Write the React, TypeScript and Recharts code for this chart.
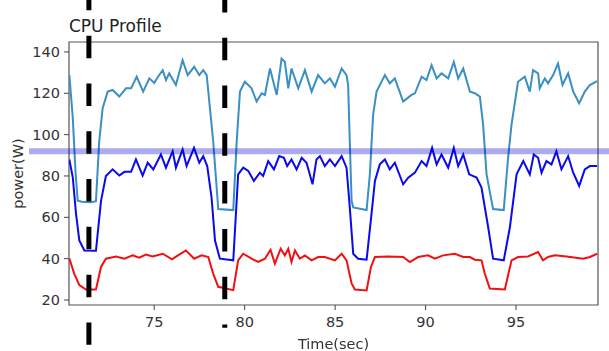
import { LineChart, Line, XAxis, YAxis, ReferenceLine, ReferenceArea } from 'recharts';

// light blue trace
const lbTime = [70.31, 70.5, 70.65, 70.77, 71.0, 71.5, 71.78, 71.96, 72.15, 72.43, 72.7, 73.07, 73.44, 73.72, 74.03, 74.39, 74.73, 75.0, 75.21, 75.47, 75.65, 75.83, 76.2, 76.57, 76.85, 77.21, 77.49, 77.71, 77.9, 78.08, 78.26, 78.54, 79.37, 79.56, 79.74, 80.01, 80.38, 80.66, 80.94, 81.12, 81.4, 81.77, 82.04, 82.22, 82.41, 82.59, 82.96, 83.33, 83.7, 84.06, 84.43, 84.71, 84.99, 85.36, 85.63, 85.72, 85.81, 85.91, 86.0, 86.74, 86.92, 87.1, 87.29, 87.75, 88.02, 88.3, 88.76, 89.22, 89.41, 89.78, 90.05, 90.33, 90.61, 90.88, 91.25, 91.56, 91.8, 92.08, 92.45, 92.72, 93.0, 93.18, 93.37, 93.73, 94.32, 94.56, 94.75, 95.11, 95.48, 95.76, 95.94, 96.22, 96.31, 96.59, 96.77, 97.05, 97.32, 97.57, 97.88, 98.16, 98.49, 98.8, 99.08, 99.48];
const lbPower = [128.8, 108, 82, 68, 67.5, 67.3, 67.8, 96.8, 112.8, 120.8, 121.6, 118.4, 122.4, 122.4, 128, 120.8, 127.2, 125, 128, 131.2, 126.4, 129.6, 124, 136, 128.8, 132.8, 128.8, 131.2, 128.8, 112.8, 96.8, 64, 63.5, 96.8, 120.8, 125.6, 122.4, 116, 120, 119.2, 132, 119.2, 136.8, 135.2, 122.4, 132, 122.4, 131.2, 120.8, 128.8, 124.8, 127.2, 123.2, 132, 128.8, 124, 96.8, 68, 64.8, 63.5, 80.8, 109.6, 120.8, 128.8, 124.8, 127.2, 116, 119.2, 120, 128, 126.4, 133.6, 127.2, 129.6, 127.2, 135.2, 127.2, 132, 120.8, 120, 118.4, 104.8, 80.8, 64, 63.5, 88.8, 104.8, 125.6, 128, 120.8, 131.2, 129.6, 122.4, 127.2, 124.8, 128.8, 134.4, 124, 129.6, 120.8, 115.2, 120.8, 124, 125.9];

// blue trace
const blueTime = [70.31, 70.5, 70.68, 70.86, 71.14, 71.78, 72.06, 72.33, 72.7, 73.07, 73.35, 73.72, 73.99, 74.36, 74.64, 74.95, 75.37, 75.65, 76.02, 76.2, 76.57, 76.79, 77.2, 77.49, 77.71, 77.93, 78.17, 78.36, 78.63, 79.37, 79.64, 79.92, 80.2, 80.51, 80.84, 81.02, 81.3, 81.62, 81.91, 82.17, 82.35, 82.59, 82.87, 83.15, 83.42, 83.75, 83.97, 84.16, 84.43, 84.71, 84.99, 85.36, 85.63, 85.81, 86.0, 86.27, 86.74, 87.01, 87.2, 87.47, 87.75, 88.02, 88.3, 88.76, 89.04, 89.41, 89.78, 90.05, 90.36, 90.61, 90.88, 91.25, 91.56, 91.8, 92.08, 92.41, 92.82, 93.09, 93.46, 93.73, 94.32, 94.66, 95.03, 95.4, 95.76, 95.98, 96.22, 96.41, 96.68, 96.96, 97.23, 97.51, 97.88, 98.16, 98.49, 98.8, 99.08, 99.48];
const bluePower = [88, 79.2, 61.6, 48.8, 44, 43.8, 68, 80, 83.2, 80.2, 82, 82, 88, 80.2, 86.4, 83.2, 90.4, 84, 92, 84, 92.8, 84.8, 93.6, 86.4, 89.6, 84.8, 69.6, 48.8, 40, 39.2, 80.8, 84, 82.4, 77.6, 81.6, 80, 87.2, 83.2, 89.6, 88.8, 84.8, 88, 83.2, 88.8, 86.4, 76, 88, 89.6, 84.8, 88, 84.8, 89.6, 84, 64.8, 42.4, 40, 39.5, 61.6, 77.6, 85.6, 88, 83.2, 86.4, 76, 79.2, 81.6, 87.2, 84.8, 93.6, 85.6, 90.4, 84, 93.6, 84.8, 90.4, 80.8, 79.2, 74.4, 55.2, 40, 39.2, 55.2, 80.8, 87.2, 80.8, 90.4, 88.8, 81.6, 87.2, 85.6, 92, 83.2, 89.6, 81.6, 75.2, 83.2, 84.8, 84.8];

// red trace
const redTime = [70.31, 70.58, 70.86, 71.23, 71.78, 72.06, 72.33, 72.89, 73.35, 73.81, 74.17, 74.54, 74.91, 75.47, 75.98, 76.38, 76.75, 77.21, 77.62, 77.99, 78.26, 78.54, 79.37, 79.64, 79.92, 80.38, 80.75, 81.12, 81.43, 81.67, 81.99, 82.22, 82.41, 82.59, 82.78, 83.05, 83.33, 83.7, 84.06, 84.43, 84.99, 85.36, 85.63, 85.91, 86.09, 86.74, 86.98, 87.2, 87.93, 88.76, 89.13, 89.59, 90.14, 90.51, 90.97, 91.62, 92.08, 92.45, 92.72, 93.09, 93.27, 93.55, 94.38, 94.75, 95.11, 95.66, 96.22, 96.49, 96.77, 97.14, 97.79, 98.71, 99.08, 99.48];
const redPower = [40, 32.8, 27.2, 25.1, 25.1, 36, 40, 41.1, 40, 41.6, 40.5, 42, 41.1, 42.4, 39.7, 42, 44, 40, 41.6, 40.8, 32.8, 26.4, 24.8, 39.2, 42.4, 40, 38.4, 40, 44.3, 37.6, 44.8, 41.6, 44.8, 38.4, 44, 40, 41.6, 39.2, 40.8, 40.8, 39.2, 42.4, 39.2, 28, 25.1, 24.6, 36, 40.8, 41.1, 40.8, 38.4, 40.8, 41.6, 40, 41.6, 42.4, 40.8, 40.8, 39.5, 39.2, 32.8, 25.6, 25.1, 39.2, 40.8, 41.1, 43.2, 39.2, 40.8, 41.6, 41.1, 40, 40.8, 42.4];

const xTicks = [75, 80, 85, 90, 95];
const yTicks = [20, 40, 60, 80, 100, 120, 140];
const xDomain = [70.29, 99.53];
const yDomain = [17.6, 144.8];

// markers
const markerTimes = [71.39, 78.9];
const thresholdPower = 92;

const zip = (t: number[], p: number[]) => t.map((v, i) => ({ t: v, p: p[i] }));
const lbData = zip(lbTime, lbPower);
const blueData = zip(blueTime, bluePower);
const redData = zip(redTime, redPower);

const font = 'DejaVu Sans, sans-serif';
const tickStyle = { fill: '#333', fontSize: 14.5, fontFamily: font };

export default function App() {
    return (
        <div style={{ position: 'fixed', left: 0, top: 0, width: 609, height: 351, background: '#fff', fontFamily: font }}>
            <LineChart width={609} height={351} margin={{ top: 42, right: 11, bottom: 0, left: 0 }}>
                <XAxis
                    type="number"
                    dataKey="t"
                    domain={xDomain}
                    ticks={xTicks}
                    allowDataOverflow
                    height={46}
                    axisLine={false}
                    tickSize={5}
                    tickMargin={7}
                    tickLine={{ stroke: '#444' }}
                    tick={tickStyle}
                />
                <YAxis
                    type="number"
                    domain={yDomain}
                    ticks={yTicks}
                    allowDataOverflow
                    width={69}
                    axisLine={false}
                    tickSize={5}
                    tickMargin={4}
                    tickLine={{ stroke: '#444' }}
                    tick={tickStyle}
                />
                <ReferenceArea
                    x1={xDomain[0]}
                    x2={xDomain[1]}
                    y1={yDomain[0]}
                    y2={yDomain[1]}
                    fill="none"
                    stroke="#555"
                    strokeWidth={1.2}
                    ifOverflow="visible"
                />
                <Line data={lbData} dataKey="p" type="linear" stroke="#3a8fc3" strokeWidth={2} dot={false} isAnimationActive={false} />
                <Line data={blueData} dataKey="p" type="linear" stroke="#0a0aec" strokeWidth={2} dot={false} isAnimationActive={false} />
                <Line data={redData} dataKey="p" type="linear" stroke="#f01010" strokeWidth={2} dot={false} isAnimationActive={false} />
                <ReferenceLine
                    segment={[{ x: 68.08, y: thresholdPower }, { x: 100.2, y: thresholdPower }]}
                    ifOverflow="visible"
                    stroke="#0000cc"
                    strokeOpacity={0.33}
                    strokeWidth={6}
                />
                <ReferenceLine
                    segment={[{ x: markerTimes[0], y: 171 }, { x: markerTimes[0], y: -1.6 }]}
                    ifOverflow="visible"
                    stroke="#000"
                    strokeWidth={5}
                    strokeDasharray="22.5 25.3"
                />
                <ReferenceLine
                    segment={[{ x: markerTimes[1], y: 170 }, { x: markerTimes[1], y: 6.6 }]}
                    ifOverflow="visible"
                    stroke="#000"
                    strokeWidth={5}
                    strokeDasharray="22.5 25.3"
                />
            </LineChart>
            <div style={{ position: 'absolute', left: 69, top: 17.6, fontSize: 17, lineHeight: '17px', color: '#222', whiteSpace: 'nowrap' }}>
                CPU Profile
            </div>
            <div style={{ position: 'absolute', left: 233.5, width: 200, top: 336.7, fontSize: 14.5, lineHeight: '14.5px', color: '#333', textAlign: 'center' }}>
                Time(sec)
            </div>
            <div
                style={{
                    position: 'absolute',
                    left: 18.3 - 60,
                    top: 173 - 8.5,
                    width: 120,
                    height: 17,
                    fontSize: 14.5,
                    lineHeight: '17px',
                    color: '#333',
                    textAlign: 'center',
                    transform: 'rotate(-90deg)',
                }}
            >
                power(W)
            </div>
        </div>
    );
}
